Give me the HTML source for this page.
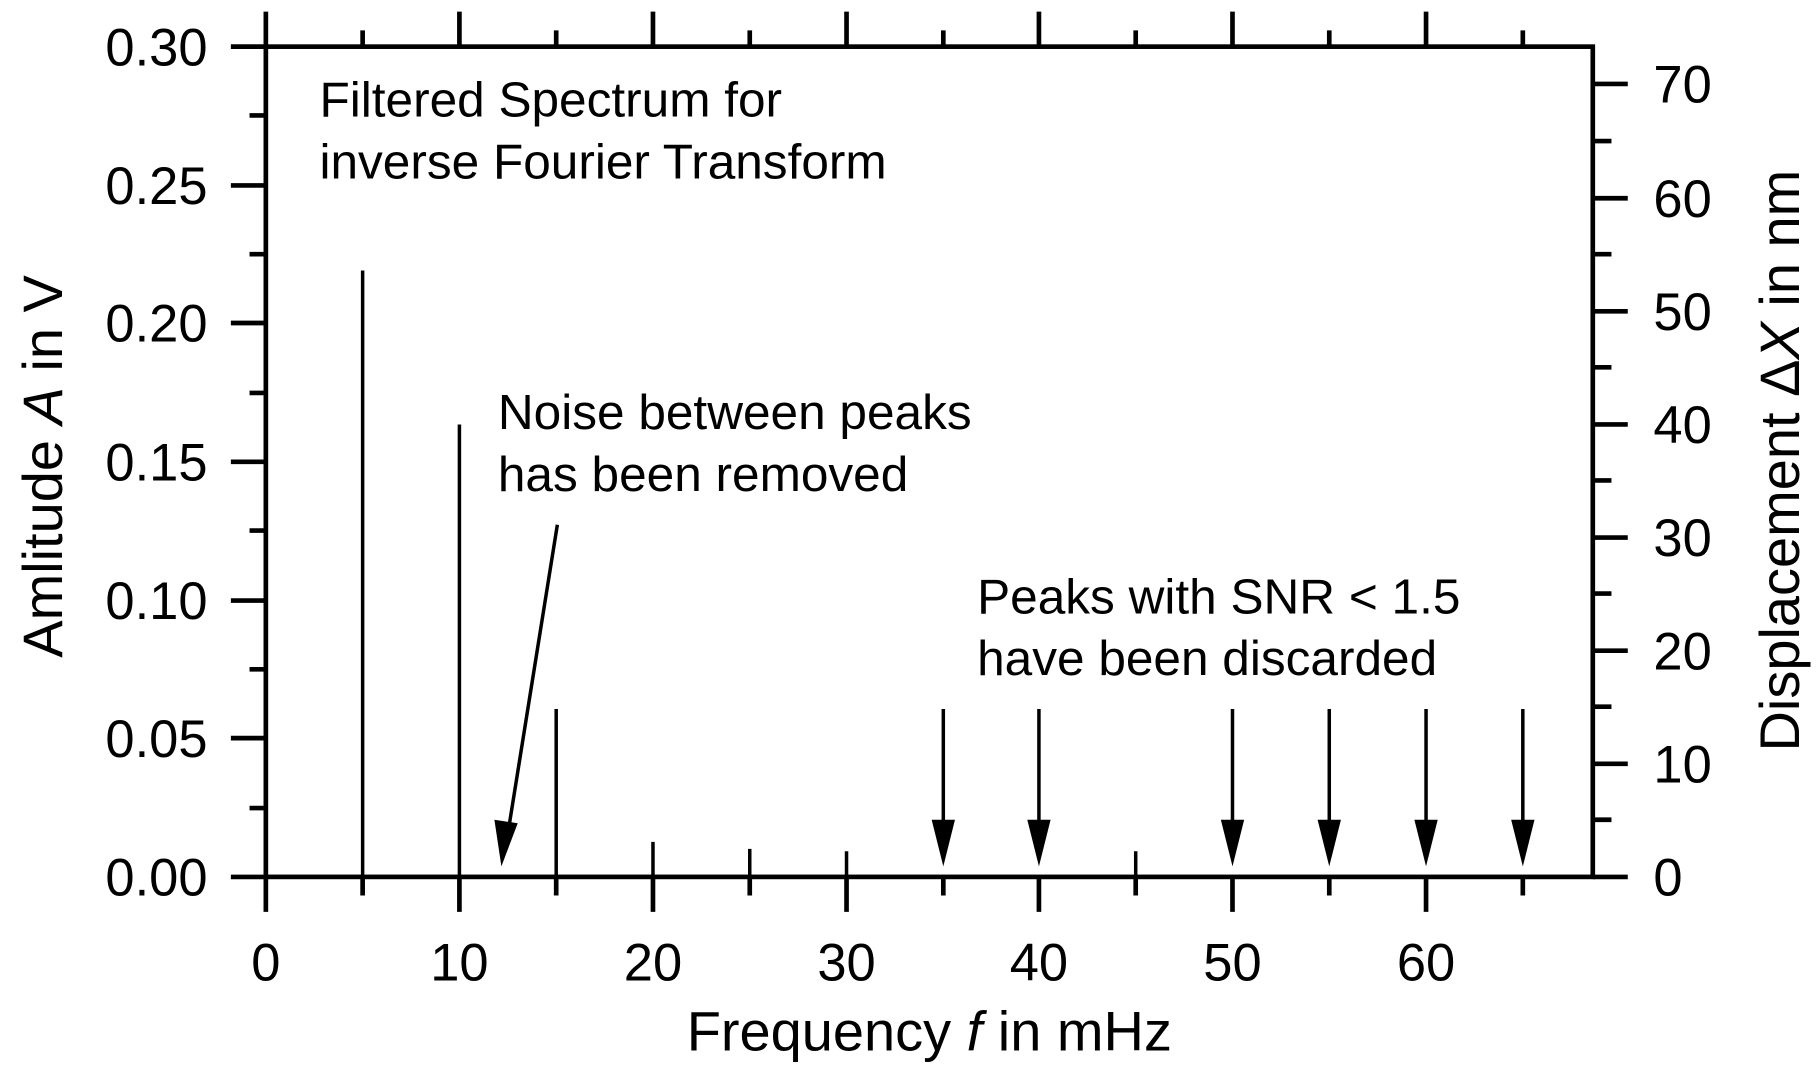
<!DOCTYPE html>
<html><head><style>html,body{margin:0;padding:0;background:#fff}svg{display:block}</style></head><body>
<svg width="1819" height="1070" viewBox="0 0 1560 917.6" preserveAspectRatio="none" xmlns="http://www.w3.org/2000/svg" font-family="Liberation Sans, Arial, sans-serif" fill="#000">
<g stroke="#000" stroke-width="4" fill="none">
<rect x="228" y="40" width="1138" height="712"/>
<path d="M198 40H228M198 159H228M198 277H228M198 396H228M198 515H228M198 633H228M198 752H228"/>
<path d="M214 99H228M214 218H228M214 337H228M214 455H228M214 574H228M214 693H228"/>
<path d="M228 752V782M394 752V782M560 752V782M726 752V782M891 752V782M1057 752V782M1223 752V782"/>
<path d="M228 40V10M394 40V10M560 40V10M726 40V10M891 40V10M1057 40V10M1223 40V10"/>
<path d="M311 752V768M477 752V768M643 752V768M809 752V768M974 752V768M1140 752V768M1306 752V768"/>
<path d="M311 40V26M477 40V26M643 40V26M809 40V26M974 40V26M1140 40V26M1306 40V26"/>
<path d="M1366 752H1396M1366 655H1396M1366 558H1396M1366 461H1396M1366 364H1396M1366 267H1396M1366 170H1396M1366 72H1396"/>
<path d="M1366 703H1382M1366 606H1382M1366 509H1382M1366 412H1382M1366 315H1382M1366 218H1382M1366 121H1382"/>
</g>
<g stroke="#000" stroke-width="3">
<path d="M311 752V232M394 752V364M477 752V608M560 752V722M643 752V728M726 752V730M974 752V730"/>
<path d="M809 608V712M891 608V712M1057 608V712M1140 608V712M1223 608V712M1306 608V712"/>
<path d="M478 450L436 712"/>
</g>
<g>
<polygon points="799,703 819,703 809,743"/>
<polygon points="881,703 901,703 891,743"/>
<polygon points="1047,703 1067,703 1057,743"/>
<polygon points="1130,703 1150,703 1140,743"/>
<polygon points="1213,703 1233,703 1223,743"/>
<polygon points="1296,703 1316,703 1306,743"/>
<polygon points="424,703 444,706 430,743"/>
</g>
<g font-size="45" text-anchor="end">
<text x="178" y="56">0.30</text><text x="178" y="175">0.25</text><text x="178" y="293">0.20</text>
<text x="178" y="412">0.15</text><text x="178" y="531">0.10</text><text x="178" y="649">0.05</text><text x="178" y="768">0.00</text>
</g>
<g font-size="45" text-anchor="start">
<text x="1418" y="768">0</text><text x="1418" y="671">10</text><text x="1418" y="574">20</text><text x="1418" y="477">30</text>
<text x="1418" y="380">40</text><text x="1418" y="283">50</text><text x="1418" y="186">60</text><text x="1418" y="88">70</text>
</g>
<g font-size="45" text-anchor="middle">
<text x="228" y="841">0</text><text x="394" y="841">10</text><text x="560" y="841">20</text><text x="726" y="841">30</text>
<text x="891" y="841">40</text><text x="1057" y="841">50</text><text x="1223" y="841">60</text>
</g>
<text x="797" y="901" font-size="48" text-anchor="middle">Frequency <tspan font-style="italic">f</tspan> in mHz</text>
<text transform="translate(53,400) rotate(-90)" font-size="48" text-anchor="middle">Amlitude <tspan font-style="italic">A</tspan> in V</text>
<text transform="translate(1543,395) rotate(-90)" font-size="48" text-anchor="middle">Displacement Δ<tspan font-style="italic">X</tspan> in nm</text>
<g font-size="42.5">
<text x="274" y="100">Filtered Spectrum for</text><text x="274" y="153">inverse Fourier Transform</text>
<text x="427" y="368">Noise between peaks</text><text x="427" y="421">has been removed</text>
<text x="838" y="526">Peaks with SNR &lt; 1.5</text><text x="838" y="579">have been discarded</text>
</g>
</svg>
</body></html>
